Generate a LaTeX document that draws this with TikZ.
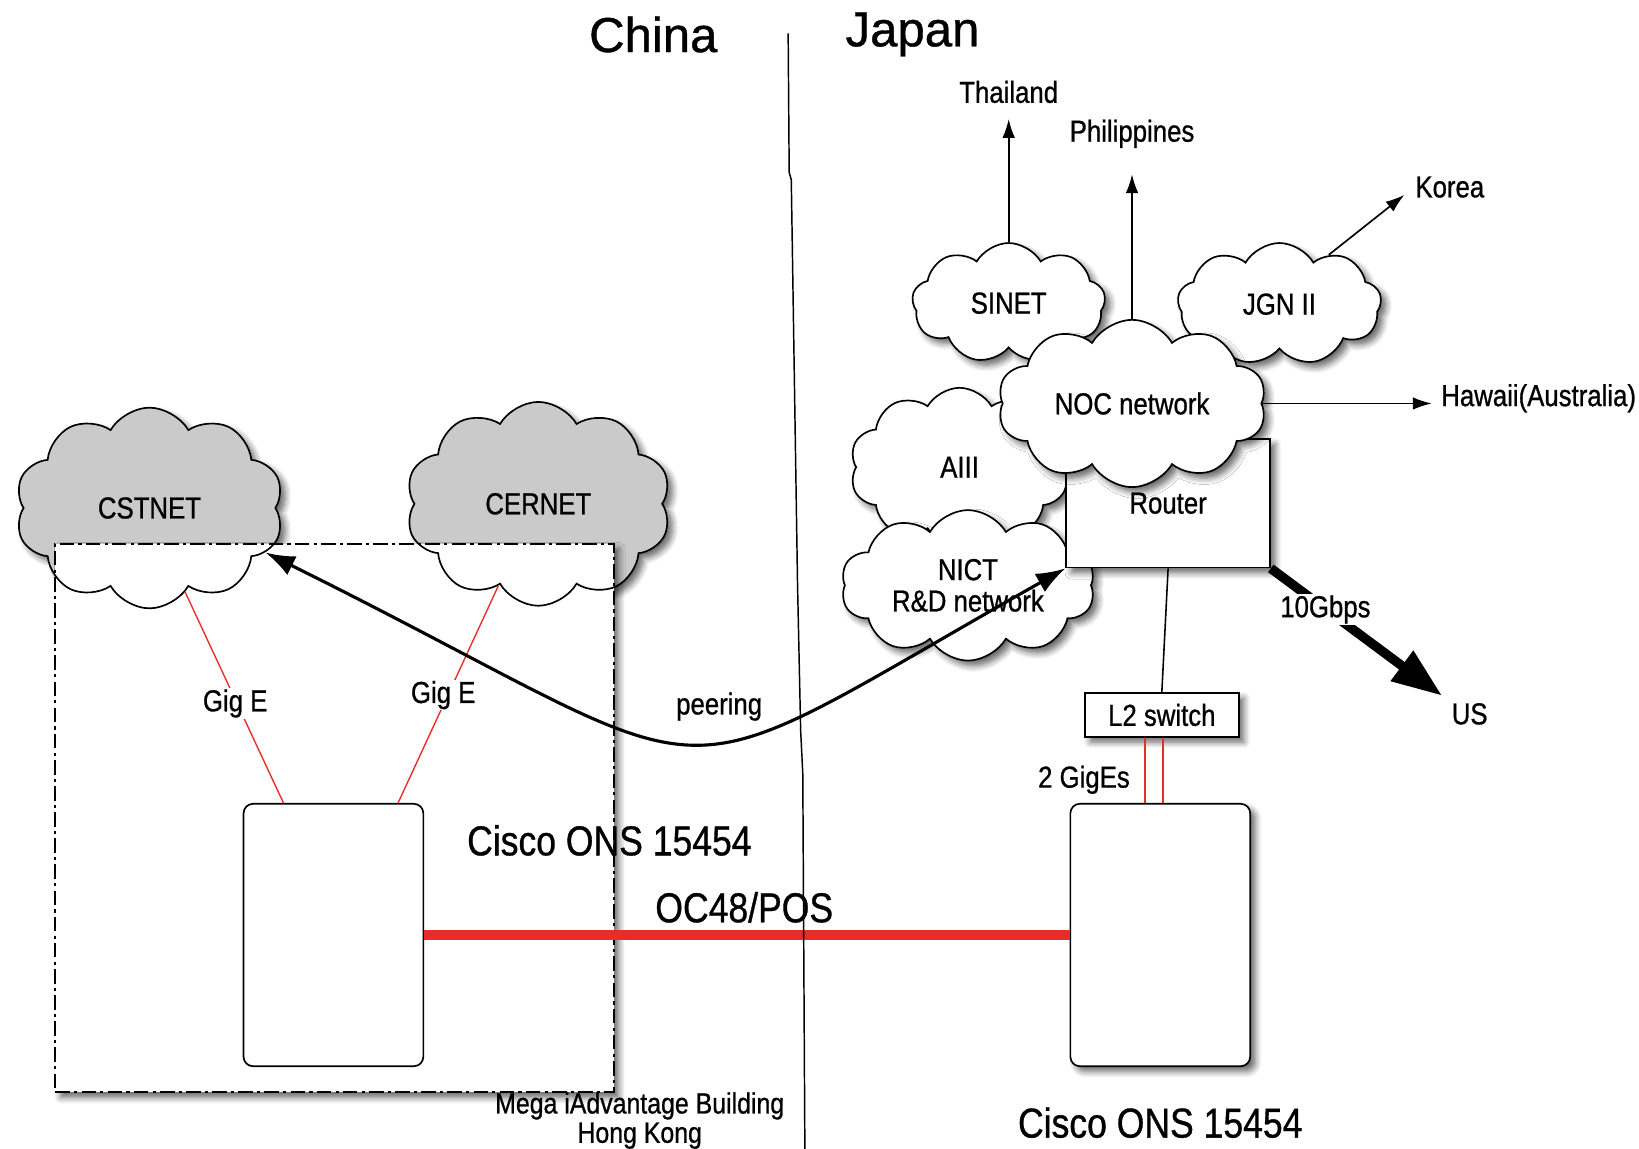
\documentclass[tikz,border=0pt]{standalone}
\usepackage{fontspec}
\setmainfont{Liberation Sans}[FakeBold=0.6]
\newfontfamily\lblfont[FakeStretch=0.85,FakeBold=0.8]{Liberation Sans}
\newfontfamily\titlefont[FakeBold=0.8]{Liberation Sans}
\usetikzlibrary{shapes.symbols,shadows.blur,arrows.meta}
\definecolor{cloudgray}{RGB}{202,202,202}
\definecolor{linkred}{RGB}{232,45,38}
\begin{document}
\begin{tikzpicture}[x=1pt,y=-1pt,
  lab/.style={font={\lblfont\fontsize{29}{30}\selectfont}, inner sep=1pt},
  biglab/.style={font={\lblfont\fontsize{40}{44}\selectfont}, inner sep=1pt},
  megalab/.style={font={\lblfont\fontsize{28}{28}\selectfont}, inner sep=1pt, align=center},
  titlelab/.style={font={\titlefont\fontsize{47}{50}\selectfont}, inner sep=0pt},
  shad/.style={blur shadow={shadow xshift=5pt, shadow yshift=-5pt, shadow blur steps=6, shadow blur radius=6pt, shadow opacity=60}},
  netcloud/.style={cloud, cloud puffs=10, cloud puff arc=120, cloud ignores aspect, inner sep=0pt, line width=1.6pt, align=center, lab},
  boxnode/.style={rectangle, draw, line width=1.6pt, fill=white, inner sep=0pt},
  onsbox/.style={boxnode, rounded corners=9pt, minimum width=172pt, minimum height=251pt},
  thinred/.style={linkred, line width=1.3pt},
  smallarrow/.style={line width=1.6pt, -{Latex[length=18pt,width=12pt]}},
]
\useasboundingbox (0,0) rectangle (1568,1099);

% China side clouds (fill), building box, cloud outlines
\node[netcloud, fill=cloudgray, shad, minimum width=257pt, minimum height=192pt] (cstbg) at (143,486) {};
\node[netcloud, fill=cloudgray, shad, minimum width=254pt, minimum height=195pt] (cerbg) at (515,482) {};
\node[boxnode, dash pattern=on 14pt off 4pt on 3pt off 4pt, line width=2pt, shad, minimum width=534pt, minimum height=525pt] (bldg) at (320,782.5) {};
\node[netcloud, draw, minimum width=257pt, minimum height=192pt] (cst) at (143,486) {CSTNET};
\node[netcloud, draw, minimum width=254pt, minimum height=195pt] (cer) at (515,482) {CERNET};

\node[onsbox] (onsl) at (319,894.5) {};
\draw[thinred] (cst.-67) -- ([xshift=39pt]onsl.north west);
\draw[thinred] (cer.-116) -- ([xshift=-25pt]onsl.north east);
\node[lab, fill=white] (gige1) at (225,673) {Gig E};
\node[lab, fill=white] (gige2) at (424,665) {Gig E};

% Japan side
\node[netcloud, draw, fill=white, shad, cloud puffs=9, minimum width=185pt, minimum height=115pt] (sinet) at (965,290) {SINET};
\node[netcloud, draw, fill=white, shad, cloud puffs=9, minimum width=195pt, minimum height=117pt] (jgn) at (1224,291) {JGN II};
\node[netcloud, draw, fill=white, shad, minimum width=210pt, minimum height=152pt] (aiii) at (918,447) {AIII};
\node[netcloud, draw, fill=white, shad, minimum width=243pt, minimum height=144pt] (nict) at (926,560) {NICT\\R\&D network};
\node[boxnode, lab, shad, minimum width=195pt, minimum height=123pt] (router) at (1117.5,481.5) {Router};
\node[netcloud, draw, fill=white, shad, minimum width=257pt, minimum height=160pt] (noc) at (1083,386) {NOC network};

\node[boxnode, lab, shad, minimum width=147pt, minimum height=42pt] (l2) at (1111.5,684) {L2 switch};
\node[onsbox, shad] (onsr) at (1110,894.5) {};

\draw[line width=1.5pt] (router.south) -- (l2.north);
\draw[thinred] ([xshift=-16pt]l2.south) -- ([xshift=-16pt]l2.south |- onsr.north);
\draw[thinred] ([xshift=1pt]l2.south) -- ([xshift=1pt]l2.south |- onsr.north);
\node[lab] (giges) at (1037,746) {2 GigEs};

\draw[linkred, line width=10pt] (onsl.east) -- (onsr.west);

% border line between China and Japan
\draw[line width=1.4pt] (754,32) -- (755,165) -- (757,172) -- (763,560) -- (766,700) -- (768,740) -- (770,1099);

% titles and labels
\node[titlelab] (china) at (625,33) {China};
\node[titlelab] (japan) at (873,33) {Japan};
\node[lab] (thai) at (965,88) {Thailand};
\node[lab] (phil) at (1083,128) {Philippines};
\node[lab] (korea) at (1387,179) {Korea};
\node[lab] (hawaii) at (1472,381) {Hawaii(Australia)};
\node[lab] (us) at (1406,683) {US};

\draw[smallarrow, shorten >=14pt] (sinet.north) -- (thai.south);
\draw[smallarrow, shorten >=24pt] (noc.north) -- (phil.south);
\draw[smallarrow, shorten >=12pt] (jgn.45) -- (korea.west);
\draw[smallarrow, shorten >=8pt] (noc.east) -- (noc.east -| hawaii.west);

\draw[line width=9pt, -{Triangle[length=48pt,width=34pt]}, shorten >=10pt] (router.south east) -- (us.north west);
\node[lab, fill=white] (gbps) at (1268,583) {10Gbps};

\draw[line width=3pt, {Latex[length=28pt,width=20pt]}-{Latex[length=28pt,width=20pt]}] (cst.-21) .. controls (720,760) and (610,775) .. (router.south west);
\node[lab] (peer) at (688,676) {peering};

\node[biglab] (ciscol) at (583,804) {Cisco ONS 15454};
\node[biglab] (oc48) at (712,868) {OC48/POS};
\node[biglab] (ciscor) at (1110,1074) {Cisco ONS 15454};
\node[megalab] (mega) at (612,1072) {Mega iAdvantage Building\\Hong Kong};
\end{tikzpicture}
\end{document}
